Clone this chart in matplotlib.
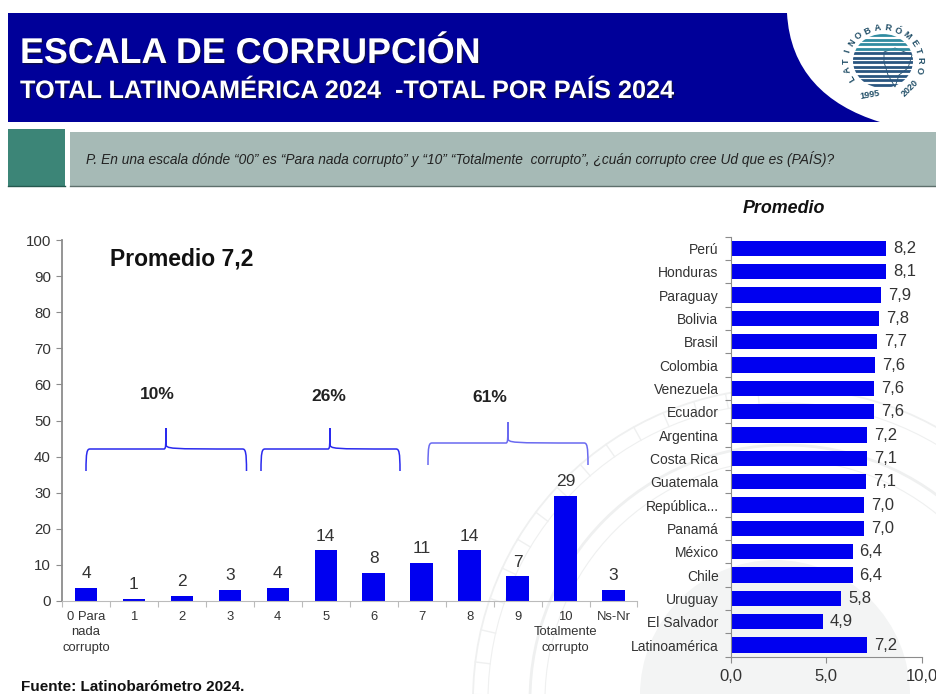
import numpy as np
import matplotlib
matplotlib.use('Agg')
import matplotlib.pyplot as plt
from matplotlib.patches import Rectangle, Circle, Ellipse, PathPatch, Polygon
from matplotlib.path import Path
import matplotlib.patheffects as pe

plt.rcParams['font.family'] = ['Liberation Sans', 'DejaVu Sans']

# datos panel izquierdo
categorias = ['0 Para\nnada\ncorrupto', '1', '2', '3', '4', '5', '6', '7', '8', '9',
              '10\nTotalmente\ncorrupto', 'Ns-Nr']
valores = [3.5, 0.6, 1.5, 3.0, 3.5, 14.0, 7.7, 10.5, 14.0, 6.8, 29.0, 3.0]
etiquetas = ['4', '1', '2', '3', '4', '14', '8', '11', '14', '7', '29', '3']

# datos panel derecho
paises = ['Perú', 'Honduras', 'Paraguay', 'Bolivia', 'Brasil', 'Colombia', 'Venezuela',
          'Ecuador', 'Argentina', 'Costa Rica', 'Guatemala', 'República...', 'Panamá',
          'México', 'Chile', 'Uruguay', 'El Salvador', 'Latinoamérica']
promedios = [8.15, 8.12, 7.88, 7.78, 7.65, 7.57, 7.52, 7.52, 7.12, 7.12, 7.07, 7.0, 6.97,
             6.38, 6.38, 5.78, 4.8, 7.12]
etiq_prom = ['8,2', '8,1', '7,9', '7,8', '7,7', '7,6', '7,6', '7,6', '7,2', '7,1', '7,1',
             '7,0', '7,0', '6,4', '6,4', '5,8', '4,9', '7,2']

W, H = 936, 694
AZUL = '#0000f0'
GRIS = '#8c8c8c'
TXT = '#333333'

fig = plt.figure(figsize=(W / 100, H / 100), dpi=100, facecolor='white')


def ejes_px(x0, y0, x1, y1):
    return fig.add_axes([x0 / W, 1 - y1 / H, (x1 - x0) / W, (y1 - y0) / H])


# capa de fondo en pixeles
bg = fig.add_axes([0, 0, 1, 1], zorder=0)
bg.set_xlim(0, W)
bg.set_ylim(H, 0)
bg.axis('off')

# marca de agua
bg.add_patch(Circle((775, 695), 135, fc='#f3f4f4', ec='none'))
for r, lw in [(312, 1.3), (297, 0.8), (255, 2.0), (240, 0.8)]:
    bg.add_patch(Circle((785, 700), r, fill=False, ec='#eff0f0', lw=lw))
for a in np.arange(95, 185, 6):
    t = np.radians(a)
    bg.plot([785 + 297 * np.cos(t), 785 + 312 * np.cos(t)],
            [700 - 297 * np.sin(t), 700 - 312 * np.sin(t)], color='#eff0f0', lw=1)

# cabecera
verts = [(8, 13), (787, 13), (790, 70), (825, 105), (880, 122), (8, 122), (8, 13)]
codes = [Path.MOVETO, Path.LINETO, Path.CURVE4, Path.CURVE4, Path.CURVE4, Path.LINETO, Path.CLOSEPOLY]
bg.add_patch(PathPatch(Path(verts, codes), fc='#000099', ec='none'))
bg.add_patch(Rectangle((8, 129), 57, 58, fc='#3c8577', ec='none'))
bg.add_patch(Rectangle((70, 132), 866, 54, fc='#a6bab6', ec='none'))
bg.plot([70, 936], [185.5, 185.5], color='#5d6f6b', lw=1)
bg.plot([8, 65], [186, 186], color='#25594f', lw=1)

sombra = [pe.SimplePatchShadow(offset=(1, -1), shadow_rgbFace='#111133', alpha=0.8), pe.Normal()]
bg.text(20, 63, 'ESCALA DE CORRUPCIÓN', color='white', fontsize=25.8, fontweight='bold',
        va='baseline', ha='left', path_effects=sombra)
bg.text(20, 98, 'TOTAL LATINOAMÉRICA 2024  -TOTAL POR PAÍS 2024', color='white', fontsize=18.2,
        fontweight='bold', va='baseline', ha='left', path_effects=sombra)
bg.text(86, 159, 'P. En una escala dónde “00” es “Para nada corrupto” y “10” “Totalmente  corrupto”, '
        '¿cuán corrupto cree Ud que es (PAÍS)?', fontsize=9.9, style='italic', color='#222222',
        va='center', ha='left')

# logo
cx, cy = 883, 61
disco = Ellipse((cx, cy), 60, 54, fc='white', ec='none')
bg.add_patch(disco)
for y in np.arange(cy - 26, cy + 28, 4.5):
    color = '#2f8ba0' if y < cy - 8 else '#2a5680'
    ln, = bg.plot([cx - 32, cx + 32], [y, y], color=color, lw=2)
    ln.set_clip_path(disco)
bg.add_patch(Polygon([(884, 52), (895, 48), (912, 55), (908, 68), (899, 75), (895, 87), (888, 75), (884, 62)],
                     fc='white', ec='#1f4d66', lw=0.6))
texto_logo = 'LATINOBARÓMETRO'
angs = np.linspace(212, -15, len(texto_logo))
for c, a in zip(texto_logo, angs):
    t = np.radians(a)
    bg.text(cx + 37 * np.cos(t), cy - 33 * np.sin(t), c, fontsize=6.5, fontweight='bold', color='#1f4d66',
            rotation=a - 90, ha='center', va='center')
bg.text(870, 95, '1995', fontsize=6.5, fontweight='bold', color='#1f4d66', rotation=10, ha='center', va='center')
bg.text(910, 88, '2020', fontsize=6.5, fontweight='bold', color='#1f4d66', rotation=45, ha='center', va='center')

# panel izquierdo
ax = ejes_px(62, 240, 637.5, 601)
ax.patch.set_alpha(0)
x = np.arange(len(categorias))
ax.bar(x, valores, width=0.47, color=AZUL)
for xi, v, e in zip(x, valores, etiquetas):
    ax.annotate(e, (xi, v), xytext=(0, 5), textcoords='offset points', ha='center', va='bottom',
                fontsize=12.5, color=TXT)
ax.set_xlim(-0.5, len(categorias) - 0.5)
ax.set_ylim(0, 100)
ax.set_yticks(np.arange(0, 101, 10))
ax.set_xticks(np.arange(len(categorias) + 1) - 0.5)
ax.set_xticklabels([])
ax.set_xticks(x, minor=True)
ax.set_xticklabels(categorias, minor=True, fontsize=9.4, color=TXT, linespacing=1.38)
ax.tick_params(axis='x', which='minor', length=0, pad=7)
ax.tick_params(axis='x', which='major', length=4, color='#bbbbbb')
ax.tick_params(axis='y', length=4, color=GRIS, labelsize=10.8, labelcolor=TXT, pad=4)
ax.spines[['top', 'right']].set_visible(False)
ax.spines['left'].set_color(GRIS)
ax.spines['left'].set_linewidth(1.3)
ax.spines['bottom'].set_color('#bbbbbb')

# capa superior en pixeles
fg = fig.add_axes([0, 0, 1, 1], zorder=5)
fg.set_xlim(0, W)
fg.set_ylim(H, 0)
fg.axis('off')


def llave(x0, x1, xm, y_bajo, y_alto, y_punta, color):
    v = [(x0, y_bajo), (x0, y_alto + 3), (x0 + 1, y_alto), (x0 + 4, y_alto),
         (xm - 2, y_alto), (xm, y_alto), (xm, y_alto - 5), (xm, y_punta),
         (xm, y_alto - 5), (xm, y_alto), (xm + 2, y_alto),
         (x1 - 4, y_alto), (x1 - 1, y_alto), (x1, y_alto + 3), (x1, y_bajo)]
    c = [Path.MOVETO, Path.CURVE4, Path.CURVE4, Path.CURVE4,
         Path.LINETO, Path.CURVE4, Path.CURVE4, Path.LINETO,
         Path.LINETO, Path.CURVE4, Path.CURVE4,
         Path.LINETO, Path.CURVE4, Path.CURVE4, Path.CURVE4]
    fg.add_patch(PathPatch(Path(v, c), fc='none', ec=color, lw=1.1))


llave(86, 246.5, 166, 471, 449, 428, '#2a2aee')
llave(261, 400, 330, 471, 449, 428, '#2a2aee')
llave(428, 588, 508, 465, 443, 422, '#6a6af0')

fg.text(157, 394, '10%', fontsize=12.5, fontweight='bold', color='#222222', ha='center', va='center')
fg.text(329, 396, '26%', fontsize=12.5, fontweight='bold', color='#222222', ha='center', va='center')
fg.text(490, 397, '61%', fontsize=12.5, fontweight='bold', color='#222222', ha='center', va='center')
fg.text(110, 259, 'Promedio 7,2', fontsize=16.5, fontweight='bold', color='#111111', ha='left', va='center')
fg.text(21, 687, 'Fuente: Latinobarómetro 2024.', fontsize=11, fontweight='bold', color='#111111',
        ha='left', va='center')
fg.text(784, 208, 'Promedio', fontsize=12.9, fontweight='bold', style='italic', color='#111111',
        ha='center', va='center')

# panel derecho
ax2 = ejes_px(731, 236.7, 921.7, 656.7)
ax2.patch.set_alpha(0)
y = np.arange(len(paises))
ax2.barh(y, promedios, height=0.65, color=AZUL)
for yi, v, e in zip(y, promedios, etiq_prom):
    ax2.annotate(e, (v, yi), xytext=(5, 0), textcoords='offset points', ha='left', va='center',
                 fontsize=12, color=TXT)
ax2.set_ylim(len(paises) - 0.5, -0.5)
ax2.set_xlim(0, 10)
ax2.set_xticks([0, 5, 10])
ax2.set_xticklabels(['0,0', '5,0', '10,0'], fontsize=12, color=TXT)
ax2.set_yticks(np.arange(len(paises) + 1) - 0.5)
ax2.set_yticklabels([])
ax2.set_yticks(y, minor=True)
ax2.set_yticklabels(paises, minor=True, fontsize=10, color=TXT)
ax2.tick_params(axis='y', which='minor', length=0, pad=9)
ax2.tick_params(axis='y', which='major', length=4, color=GRIS)
ax2.tick_params(axis='x', length=4, color=GRIS, pad=5)
ax2.spines[['top', 'right']].set_visible(False)
ax2.spines['left'].set_color(GRIS)
ax2.spines['bottom'].set_color(GRIS)
ax2.set_zorder(4)

fig.savefig('out.png', dpi=100, facecolor='white')
